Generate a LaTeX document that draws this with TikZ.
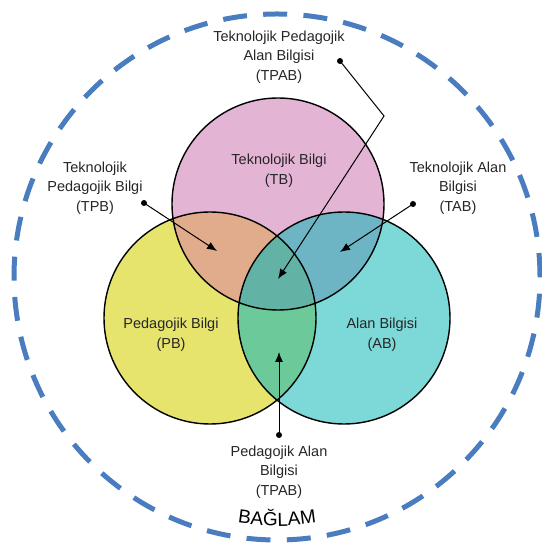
\documentclass[tikz,border=0pt]{standalone}
\usepackage{fontspec}
\setmainfont{Liberation Sans}
\usepackage{tikz}
\usetikzlibrary{arrows.meta,positioning,decorations.text}
\definecolor{tbpink}{HTML}{E3B4D4}
\definecolor{pbyellow}{HTML}{E6E46C}
\definecolor{abcyan}{HTML}{7DD8D8}
\definecolor{tpborange}{HTML}{E0AC8C}
\definecolor{tabblue}{HTML}{6DB5C4}
\definecolor{pabgreen}{HTML}{6CC99A}
\definecolor{tpabteal}{HTML}{62B3A6}
\definecolor{bagblue}{HTML}{4A7CC0}
\tikzstyle{dot} = [circle,fill=black,inner sep=0pt,minimum size=6pt]
\tikzstyle{lbl} = [align=center,inner sep=0pt,font=\fontsize{14.5}{19.5}\selectfont,text=black!85]
\tikzset{>=latex}

\begin{document}
\begin{tikzpicture}[x=1pt,y=1pt]
    \useasboundingbox (0,0) rectangle (541,545);
    \def\rad{106}
    \coordinate (tb) at (278,341);
    \coordinate (pb) at (210,227);
    \coordinate (ab) at (344,227);

    % context
    \draw [bagblue,line width=5pt,dash pattern=on 24pt off 16.3pt] (277,268) circle (263);
    \path [decorate,decoration={text along path,text align=center,
        text format delimiters={|}{|},text={|\fontsize{19}{19}\selectfont|BAĞLAM}}]
        (277,268) ++(246:249) arc (246:294:249);

    % the three circles and their overlaps
    \fill [tbpink] (tb) circle (\rad);
    \fill [pbyellow] (pb) circle (\rad);
    \fill [abcyan] (ab) circle (\rad);
    \begin{scope}
        \clip (pb) circle (\rad);
        \fill [pabgreen] (ab) circle (\rad);
    \end{scope}
    \begin{scope}
        \clip (tb) circle (\rad);
        \fill [tpborange] (pb) circle (\rad);
        \fill [tabblue] (ab) circle (\rad);
        \clip (pb) circle (\rad);
        \fill [tpabteal] (ab) circle (\rad);
    \end{scope}
    \draw [line width=1.4pt] (tb) circle (\rad);
    \draw [line width=1.4pt] (pb) circle (\rad);
    \draw [line width=1.4pt] (ab) circle (\rad);

    \node [lbl] (tbl) at (279,374) {Teknolojik Bilgi\\(TB)};
    \node [lbl] (pbl) at (171,210) {Pedagojik Bilgi\\(PB)};
    \node [lbl] (abl) at (382,210) {Alan Bilgisi\\(AB)};

    \node [lbl] (tpab) at (279,488) {Teknolojik Pedagojik\\Alan Bilgisi\\(TPAB)};
    \node [lbl] (tpb) at (95,357) {Teknolojik\\Pedagojik Bilgi\\(TPB)};
    \node [lbl] (tab) at (458,357) {Teknolojik Alan\\Bilgisi\\(TAB)};
    \node [lbl] (pab) at (279,73) {Pedagojik Alan\\Bilgisi\\(TPAB)};

    % pointers
    \node [dot] (tpabdot) at (340,484) {};
    \node [dot] (tpbdot) at (144,342) {};
    \node [dot] (tabdot) at (413,341) {};
    \node [dot] (pabdot) at (279,110) {};
    \coordinate (tpabbend) at (384,429);
    \coordinate (tpabtip) at (278,266);
    \coordinate (tpbtip) at (217,294);
    \coordinate (tabtip) at (340,293);
    \coordinate (pabtip) at (279,193);
    \draw [-{Latex[length=10pt,width=8pt]},line width=1pt] (tpabdot.center) -- (tpabbend) -- (tpabtip);
    \draw [-{Latex[length=10pt,width=8pt]},line width=1pt] (tpbdot.center) -- (tpbtip);
    \draw [-{Latex[length=10pt,width=8pt]},line width=1pt] (tabdot.center) -- (tabtip);
    \draw [-{Latex[length=10pt,width=8pt]},line width=1pt] (pabdot.center) -- (pabtip);
\end{tikzpicture}
\end{document}
